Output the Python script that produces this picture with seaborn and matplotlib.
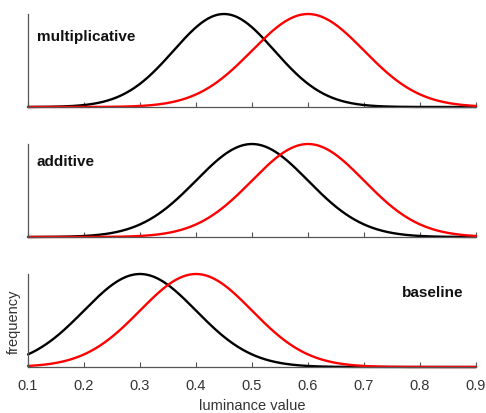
import numpy as np
import pandas as pd
import matplotlib
matplotlib.use("Agg")
import matplotlib.pyplot as plt
import seaborn as sns

# Panel definitions (top to bottom)
panels = ["multiplicative", "additive", "baseline"]
black_means = [0.45, 0.50, 0.30]
black_sds = [0.09, 0.10, 0.10]
red_means = [0.60, 0.60, 0.40]
red_sds = [0.10, 0.10, 0.10]
x_ticks = [0.1, 0.2, 0.3, 0.4, 0.5, 0.6, 0.7, 0.8, 0.9]
x_tick_labels = ["0.1", "0.2", "0.3", "0.4", "0.5", "0.6", "0.7", "0.8", "0.9"]

sns.set_theme(style="white")
plt.rcParams['font.family'] = ['Liberation Sans', 'DejaVu Sans']

fig = plt.figure(figsize=(4.86, 4.14), dpi=100)
left, width = 28/486, 448/486
bottoms = [1-108/414, 1-238/414, 1-368/414]
height = 93/414

x = np.linspace(0.1, 0.9, 400)
label_pos = [(0.02, 0.76, 'left'), (0.02, 0.82, 'left'), (0.971, 0.806, 'right')]

for i, name in enumerate(panels):
    ax = fig.add_axes([left, bottoms[i], width, height])
    yb = np.exp(-0.5*((x-black_means[i])/black_sds[i])**2)
    yr = np.exp(-0.5*((x-red_means[i])/red_sds[i])**2)
    df = pd.DataFrame({"x": np.concatenate([x, x]),
                       "y": np.concatenate([yb, yr]),
                       "s": ["black"]*len(x) + ["red"]*len(x)})
    sns.lineplot(data=df, x="x", y="y", hue="s", palette={"black": "#000000", "red": "#ff0000"},
                 hue_order=["black", "red"], linewidth=1.7, ax=ax, legend=False)
    for ln in ax.lines:
        ln.set_clip_on(False)
    ax.set_xlim(0.1, 0.9)
    ax.set_ylim(0, 1.0)
    ax.set_yticks([])
    ax.set_xticks(x_ticks)
    for s in ["top", "right"]:
        ax.spines[s].set_visible(False)
    for s in ["left", "bottom"]:
        ax.spines[s].set_color("#555555")
        ax.spines[s].set_linewidth(0.9)
    ax.tick_params(axis='x', direction='in', length=3.5, width=0.8, color="#555555",
                   bottom=True, labelsize=10.5, labelcolor="#333333", pad=8)
    if i < 2:
        ax.set_xticklabels([])
        ax.set_xlabel("")
        ax.set_ylabel("")
    else:
        ax.set_xticklabels(x_tick_labels)
        ax.set_xlabel("luminance value", fontsize=10.5, color="#333333", labelpad=4)
        ax.set_ylabel("frequency", fontsize=10.5, color="#333333", labelpad=5)
    lx, ly, ha = label_pos[i]
    ax.text(lx, ly, name, transform=ax.transAxes, ha=ha, va='center',
            fontsize=11, fontweight='bold', color="#111111")

fig.savefig("out.png", dpi=100)
